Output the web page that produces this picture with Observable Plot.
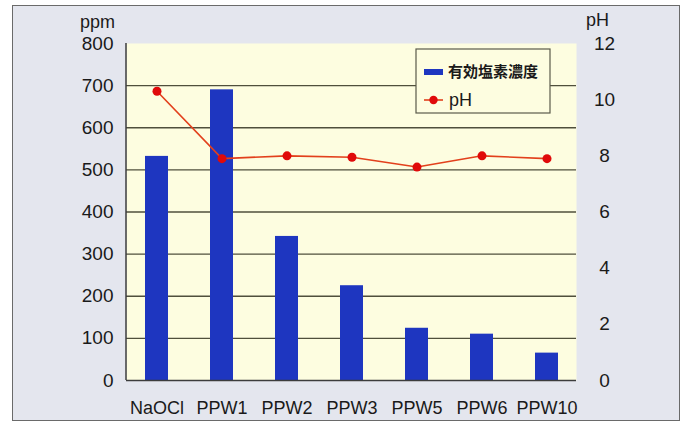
<!DOCTYPE html>
<html>
<head>
<meta charset="utf-8">
<script src="https://cdn.jsdelivr.net/npm/d3@7"></script>
<script src="https://cdn.jsdelivr.net/npm/@observablehq/plot@0.6"></script>
<style>
  body { margin: 0; background: #ffffff; }
  #chart { position: relative; width: 689px; height: 431px; }
  #panel {
    position: absolute; left: 12px; top: 5px; width: 668px; height: 416px;
    background: #e4e6ee; border: 1.5px solid #6a6a6a; box-sizing: border-box;
  }
  #chart svg { position: absolute; left: 0; top: 0; }
</style>
</head>
<body>
<div id="chart"><div id="panel"></div></div>
<script>
// Samples and measured values
const categories = ["NaOCl", "PPW1", "PPW2", "PPW3", "PPW5", "PPW6", "PPW10"];
const chlorinePpm = [532, 690, 342, 225, 124, 110, 65];   // 有効塩素濃度 (ppm)
const phValues = [10.3, 7.9, 8.0, 7.95, 7.6, 8.0, 7.9];   // pH

// Axis ticks
const ppmTicks = [0, 100, 200, 300, 400, 500, 600, 700, 800];
const phTicks = [0, 2, 4, 6, 8, 10, 12];
const ppmMax = 800;
const phMax = 12;

// Legend entries
const seriesNames = ["有効塩素濃度", "pH"];
const barColor = "#1e36c0";
const lineColor = "#e2401c";
const dotColor = "#e00a0a";

// pH shares the vertical scale with ppm: 0–12 maps onto 0–800
const phToPpm = v => v * ppmMax / phMax;

const rows = categories.map((c, i) => ({ c, ppm: chlorinePpm[i], ph: phValues[i] }));

const sansFont = "'Liberation Sans', Arial, sans-serif";
const cjkFont = "'Noto Sans CJK JP', 'Noto Sans', sans-serif";

// Left axis line of the plot area
function axisLines(index, scales, values, dims) {
  const g = d3.create("svg:g");
  const x0 = dims.marginLeft;
  const y0 = dims.marginTop;
  const y1 = dims.height - dims.marginBottom;
  g.append("line").attr("x1", x0).attr("x2", x0).attr("y1", y0).attr("y2", y1)
    .attr("stroke", "#3c3c3c").attr("stroke-width", 1.5);
  return g.node();
}

// Boxed legend in the upper right of the plot area
function legendBox(index, scales, values, dims) {
  const right = dims.width - dims.marginRight - 26;
  const left = right - 134;
  const top = dims.marginTop + 6;
  const g = d3.create("svg:g").attr("text-anchor", "start");
  g.append("rect").attr("x", left).attr("y", top).attr("width", 134).attr("height", 64)
    .attr("fill", "#fdfde0").attr("stroke", "#5a5a4a").attr("stroke-width", 1.2);
  // bar entry
  g.append("rect").attr("x", left + 8).attr("y", top + 20).attr("width", 19).attr("height", 6)
    .attr("fill", barColor);
  g.append("text").attr("x", left + 32).attr("y", top + 23.5)
    .attr("dominant-baseline", "middle")
    .attr("font-family", cjkFont).attr("font-weight", 700).attr("font-size", 15)
    .attr("fill", "#1a1a1a").text(seriesNames[0]);
  // line entry
  g.append("line").attr("x1", left + 8).attr("x2", left + 27).attr("y1", top + 51).attr("y2", top + 51)
    .attr("stroke", lineColor).attr("stroke-width", 1.6);
  g.append("circle").attr("cx", left + 17.5).attr("cy", top + 51).attr("r", 4.2).attr("fill", dotColor);
  g.append("text").attr("x", left + 33).attr("y", top + 52)
    .attr("dominant-baseline", "middle")
    .attr("font-family", sansFont).attr("font-size", 18)
    .attr("fill", "#1a1a1a").text(seriesNames[1]);
  return g.node();
}

const chart = Plot.plot({
  width: 689,
  height: 431,
  marginLeft: 126,
  marginRight: 113,
  marginTop: 43,
  marginBottom: 51,
  style: { background: "transparent", fontFamily: sansFont, color: "#1a1a1a" },
  x: { domain: categories, paddingInner: 0.65, paddingOuter: 0.25, align: 0.5 },
  y: { domain: [0, ppmMax] },
  marks: [
    Plot.frame({ fill: "#fdfde0", stroke: "none" }),
    Plot.ruleY(ppmTicks.filter(t => t > 0 && t < ppmMax), { stroke: "#4f4f3c", strokeWidth: 1.3 }),
    Plot.barY(rows, { x: "c", y: "ppm", fill: barColor }),
    Plot.line(rows, { x: "c", y: d => phToPpm(d.ph), stroke: lineColor, strokeWidth: 1.6 }),
    Plot.dot(rows, { x: "c", y: d => phToPpm(d.ph), r: 4.5, fill: dotColor, stroke: "none" }),
    Plot.ruleY([0], { stroke: "#3c3c3c", strokeWidth: 1.5 }),
    axisLines,
    Plot.axisY(ppmTicks, {
      anchor: "left", tickSize: 0, tickPadding: 13, fontSize: 19, label: null
    }),
    Plot.axisY(phTicks.map(phToPpm), {
      anchor: "right", tickSize: 0, tickPadding: 28, textAnchor: "middle",
      tickFormat: d => String(Math.round(d * phMax / ppmMax)), fontSize: 19, label: null
    }),
    Plot.axisX({ tickSize: 0, tickPadding: 21, fontSize: 18, label: null }),
    Plot.text(["ppm"], {
      frameAnchor: "top-left", text: d => d, textAnchor: "middle", lineAnchor: "middle",
      dx: -29, dy: -21, fontSize: 18
    }),
    Plot.text(["pH"], {
      frameAnchor: "top-right", text: d => d, textAnchor: "middle", lineAnchor: "middle",
      dx: 21, dy: -23, fontSize: 18
    }),
    legendBox
  ]
});

document.getElementById("chart").appendChild(chart);
</script>
</body>
</html>
